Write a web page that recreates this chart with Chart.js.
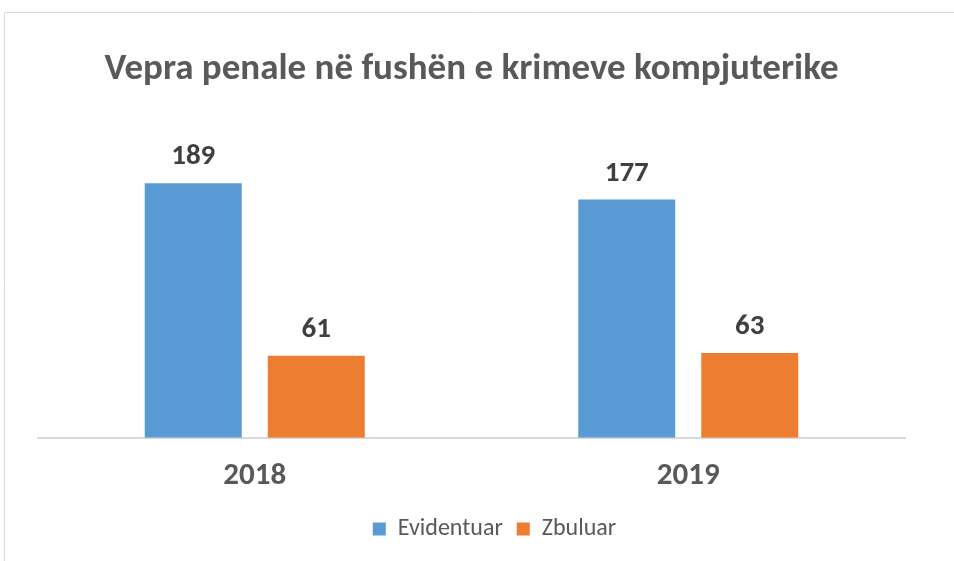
<!DOCTYPE html>
<html>
<head>
<meta charset="utf-8">
<script src="https://cdn.jsdelivr.net/npm/chart.js@4"></script>
<style>
  html, body { margin: 0; padding: 0; background: #fff; }
  #wrap { width: 954px; height: 561px; position: relative; }
</style>
</head>
<body>
<div id="wrap"><canvas id="chart" width="954" height="561"></canvas></div>
<script>
const vitet = ['2018', '2019'];
const evidentuar = [189, 177];
const zbuluar = [61, 63];

const fontFam = "Carlito, Calibri, 'Liberation Sans Narrow', 'Open Sans', sans-serif";

// korniza e grafikut (vetem majtas dhe lart, si ne origjinal)
const kornizaPlugin = {
  id: 'korniza',
  afterLayout: (chart) => {
    // legjenda pak me djathtas, si ne origjinal
    if (chart.legend) { chart.legend.left += 23; chart.legend.right += 23; }
  },
  beforeDraw: (chart) => {
    const ctx = chart.ctx;
    ctx.save();
    ctx.strokeStyle = '#d9d9d9';
    ctx.lineWidth = 1;
    ctx.beginPath();
    ctx.moveTo(4.5, 561);
    ctx.lineTo(4.5, 12.5);
    ctx.lineTo(954, 12.5);
    ctx.stroke();
    ctx.restore();
  }
};

// vlerat mbi shtyllat
const vleratPlugin = {
  id: 'vlerat',
  afterDatasetsDraw: (chart) => {
    const ctx = chart.ctx;
    ctx.save();
    ctx.font = `bold 29px ${fontFam}`;
    ctx.fillStyle = '#404040';
    ctx.textAlign = 'center';
    ctx.textBaseline = 'middle';
    chart.data.datasets.forEach((ds, i) => {
      chart.getDatasetMeta(i).data.forEach((bar, j) => {
        ctx.fillText(ds.data[j], bar.x, bar.y - 26);
      });
    });
    ctx.restore();
  }
};

new Chart(document.getElementById('chart'), {
  type: 'bar',
  data: {
    labels: vitet,
    datasets: [
      { label: 'Evidentuar', data: evidentuar, backgroundColor: '#5B9BD5', borderWidth: 0 },
      { label: 'Zbuluar', data: zbuluar, backgroundColor: '#ED7D31', borderWidth: 0 }
    ]
  },
  options: {
    responsive: false,
    animation: false,
    categoryPercentage: 0.5675,
    barPercentage: 0.7886,
    layout: { padding: { left: 38, right: 49, top: 0, bottom: 10 } },
    scales: {
      y: { display: false, min: 0, max: 200 },
      x: {
        grid: { display: false, drawTicks: false },
        border: { display: true, color: '#d9d9d9', width: 2 },
        ticks: { color: '#595959', font: { family: fontFam, size: 31, weight: 'bold' }, padding: 20 },
        afterFit: (scale) => { scale.height -= 12; }
      }
    },
    plugins: {
      title: {
        display: true,
        text: 'Vepra penale në fushën e krimeve kompjuterike',
        color: '#595959',
        font: { family: fontFam, size: 37, weight: 'bold' },
        padding: { top: 48, bottom: 76 }
      },
      legend: {
        position: 'bottom',
        labels: { color: '#595959', font: { family: fontFam, size: 24 }, boxWidth: 13, boxHeight: 13, padding: 14 }
      },
      tooltip: { enabled: false }
    }
  },
  plugins: [kornizaPlugin, vleratPlugin]
});
</script>
</body>
</html>
